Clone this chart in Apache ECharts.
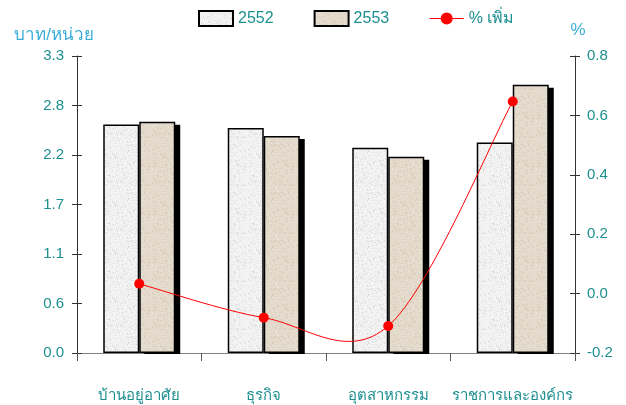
<!DOCTYPE html>
<html>
<head>
<meta charset="utf-8">
<script src="https://cdn.jsdelivr.net/npm/echarts@6/dist/echarts.min.js"></script>
<style>
html,body{margin:0;padding:0;background:#fff;}
#chart{width:626px;height:405px;}
</style>
</head>
<body>
<div id="chart"></div>
<script>
// ---- data ----
var categories = ['บ้านอยู่อาศัย', 'ธุรกิจ', 'อุตสาหกรรม', 'ราชการและองค์กร'];
var values2552 = [2.54, 2.50, 2.28, 2.34];
var values2553 = [2.57, 2.41, 2.18, 2.98];
var pctIncrease = [0.033, -0.081, -0.109, 0.647];
var leftTickLabels = ['0.0', '0.6', '1.1', '1.7', '2.2', '2.8', '3.3'];
var seriesNames = ['2552', '2553', '% เพิ่ม'];

// ---- styling helpers ----
function makeTexture(base, speck, speck2) {
  var c = document.createElement('canvas');
  c.width = 48; c.height = 48;
  var ctx = c.getContext('2d');
  ctx.fillStyle = base;
  ctx.fillRect(0, 0, 48, 48);
  for (var y = 0; y < 48; y++) {
    for (var x = 0; x < 48; x++) {
      var h = (x * 374761393 + y * 668265263) | 0;
      h = Math.imul(h ^ (h >>> 13), 1274126177);
      h = (h ^ (h >>> 16)) >>> 0;
      var r = h % 100;
      if (r < 10) { ctx.fillStyle = speck; ctx.fillRect(x, y, 1, 1); }
      else if (r < 18) { ctx.fillStyle = speck2; ctx.fillRect(x, y, 1, 1); }
    }
  }
  return { image: c, repeat: 'repeat' };
}
var tex2552 = makeTexture('#f1f1f1', '#dadada', '#fbfbfb');
var tex2553 = makeTexture('#e3dacc', '#d5cab9', '#ebe4d8');

var teal = '#1d8f8f';
var font = 'Liberation Sans, Arial, sans-serif';
var BAR_W = 36;
var LINE_RED = '#ff0000';

var chart = echarts.init(document.getElementById('chart'));
chart.setOption({
  animation: false,
  backgroundColor: '#ffffff',
  textStyle: { fontFamily: font },
  legend: {
    left: 193, top: 5,
    itemWidth: 34, itemHeight: 15, itemGap: 40,
    textStyle: { color: teal, fontSize: 16, fontFamily: font },
    data: [
      { name: seriesNames[0], icon: 'rect' },
      { name: seriesNames[1], icon: 'rect' },
      { name: seriesNames[2], lineStyle: { color: LINE_RED, width: 1, opacity: 1 } }
    ]
  },
  grid: { left: 77, right: 51, top: 56, bottom: 52, containLabel: false },
  xAxis: {
    type: 'category',
    data: categories,
    axisLine: { lineStyle: { color: '#808080', width: 1 } },
    axisTick: { show: true, interval: 0, length: 8, lineStyle: { color: '#555' } },
    axisLabel: { color: teal, fontSize: 15, margin: 35, interval: 0, fontFamily: font },
    splitLine: { show: false }
  },
  yAxis: [
    {
      type: 'value', position: 'left', min: 0, max: 3.3, interval: 0.55,
      name: 'บาท/หน่วย', nameLocation: 'end', nameGap: 12,
      nameTextStyle: { color: '#3aaed6', fontSize: 17, align: 'center', padding: [0, 46, 0, 0], fontFamily: font },
      axisLine: { show: true, lineStyle: { color: '#333' } },
      axisTick: { show: true, length: 5, lineStyle: { color: '#333' } },
      axisLabel: { color: teal, fontSize: 15, margin: 13, fontFamily: font,
        formatter: function (v) { return leftTickLabels[Math.round(v / 0.55)]; } },
      splitLine: { show: false }
    },
    {
      type: 'value', position: 'right', min: -0.2, max: 0.8, interval: 0.2,
      name: '%', nameLocation: 'end', nameGap: 17,
      nameTextStyle: { color: '#3aaed6', fontSize: 17, align: 'center', padding: [0, 0, 0, 6], fontFamily: font },
      axisLine: { show: true, lineStyle: { color: '#333' } },
      axisTick: { show: true, length: 5, lineStyle: { color: '#333' } },
      axisLabel: { color: teal, fontSize: 15, margin: 12, fontFamily: font,
        formatter: function (v) { return v.toFixed(1); } },
      splitLine: { show: false }
    },
    {
      type: 'value', position: 'left', min: 0, max: 3.3, interval: 0.55,
      axisLine: { show: false },
      axisTick: { show: true, inside: true, length: 5, lineStyle: { color: '#333' } },
      axisLabel: { show: false }, splitLine: { show: false }
    },
    {
      type: 'value', position: 'right', min: -0.2, max: 0.8, interval: 0.2,
      axisLine: { show: false },
      axisTick: { show: true, inside: true, length: 5, lineStyle: { color: '#333' } },
      axisLabel: { show: false }, splitLine: { show: false }
    }
  ],
  series: [
    {
      // drop shadow behind the 2553 bars, derived from the same data
      name: 'shadow2553', type: 'custom', yAxisIndex: 0, z: 1, silent: true,
      data: values2553.map(function (v, i) { return [i, v]; }),
      renderItem: function (params, api) {
        var top = api.coord([api.value(0), api.value(1)]);
        var base = api.coord([api.value(0), 0]);
        return {
          type: 'rect',
          shape: { x: top[0] + 5, y: top[1] + 3, width: BAR_W, height: base[1] - top[1] - 2 },
          style: { fill: '#000' }
        };
      }
    },
    {
      name: seriesNames[0], type: 'bar', yAxisIndex: 0, z: 2,
      data: values2552, barWidth: BAR_W, barGap: '0%',
      itemStyle: { color: tex2552, borderColor: '#000', borderWidth: 1.5 }
    },
    {
      name: seriesNames[1], type: 'bar', yAxisIndex: 0, z: 2,
      data: values2553, barWidth: BAR_W, barGap: '0%',
      itemStyle: { color: tex2553, borderColor: '#000', borderWidth: 1.5 }
    },
    {
      // spreadsheet-style smoothed curve through the % points (Catmull-Rom / Bezier)
      name: 'pctCurve', type: 'custom', yAxisIndex: 1, z: 3, silent: true,
      data: pctIncrease.map(function (v, i) { return [i, v]; }),
      renderItem: function (params, api) {
        if (params.dataIndex !== 0) return null;
        var pts = pctIncrease.map(function (v, i) { return api.coord([i, v]); });
        var n = pts.length, children = [];
        for (var i = 0; i < n - 1; i++) {
          var p0 = pts[Math.max(i - 1, 0)], p1 = pts[i], p2 = pts[i + 1], p3 = pts[Math.min(i + 2, n - 1)];
          children.push({
            type: 'bezierCurve',
            shape: {
              x1: p1[0], y1: p1[1], x2: p2[0], y2: p2[1],
              cpx1: p1[0] + (p2[0] - p0[0]) / 6, cpy1: p1[1] + (p2[1] - p0[1]) / 6,
              cpx2: p2[0] - (p3[0] - p1[0]) / 6, cpy2: p2[1] - (p3[1] - p1[1]) / 6
            },
            style: { stroke: LINE_RED, lineWidth: 1, fill: null }
          });
        }
        return { type: 'group', children: children };
      }
    },
    {
      name: seriesNames[2], type: 'line', yAxisIndex: 1, z: 4,
      data: pctIncrease,
      symbol: 'circle', symbolSize: 10,
      lineStyle: { color: LINE_RED, width: 1, opacity: 0 },
      itemStyle: { color: LINE_RED }
    }
  ]
});
</script>
</body>
</html>
